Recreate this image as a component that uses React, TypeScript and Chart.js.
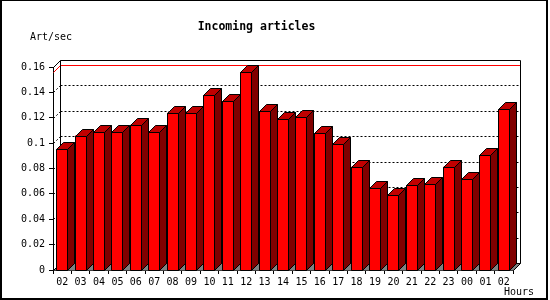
import { useEffect, useRef } from 'react';
import { Chart, registerables } from 'chart.js';

Chart.register(...registerables);

const hours = ['02', '03', '04', '05', '06', '07', '08', '09', '10', '11', '12', '13', '14', '15', '16', '17', '18', '19', '20', '21', '22', '23', '00', '01', '02'];
const articlesPerSec = [0.0956, 0.106, 0.1085, 0.109, 0.1145, 0.109, 0.124, 0.1235, 0.1377, 0.133, 0.156, 0.125, 0.119, 0.1206, 0.1077, 0.099, 0.0814, 0.0643, 0.0588, 0.0667, 0.0675, 0.0814, 0.0714, 0.0904, 0.1266];
const yMin = 0;
const yMax = 0.16;
const yStep = 0.02;
const chartTitle = 'Incoming articles';
const yTitle = 'Art/sec';
const xTitle = 'Hours';

const DEPTH = 7;
const FONT = '"DejaVu Sans Mono", "Liberation Mono", monospace';
const FRONT = '#ff0000';
const SIDE = '#800000';
const TOP = '#c00000';
const FLOOR = '#808080';

const threeD = {
  id: 'threeD',
  beforeDraw(chart: any) {
    const { ctx, width, height } = chart;
    ctx.save();
    ctx.fillStyle = '#ffffff';
    ctx.fillRect(0, 0, width, height);
    ctx.fillStyle = '#000000';
    ctx.fillRect(0, 0, 548, 1);
    ctx.fillRect(0, 0, 2, height);
    ctx.fillRect(546, 0, 2, height);
    ctx.fillRect(0, height - 2, 548, 2);
    ctx.font = '10px ' + FONT;
    ctx.textBaseline = 'middle';
    ctx.textAlign = 'left';
    ctx.fillText(yTitle, 30, 37);
    ctx.fillText(xTitle, 504, 292);
    ctx.restore();
  },
  beforeDatasetsDraw(chart: any) {
    const { ctx, chartArea, scales } = chart;
    const y = scales.y;
    const d = DEPTH;
    const fl = Math.round(chartArea.left) + 0.5;
    const fr = Math.round(chartArea.right) + 0.5;
    const ft = Math.round(chartArea.top) + 0.5;
    const fb = Math.round(chartArea.bottom) + 0.5;
    const bl = fl + d, br = fr + d, bt = ft - d, bb = fb - d;
    ctx.save();
    ctx.lineWidth = 1;
    // floor
    ctx.fillStyle = FLOOR;
    ctx.beginPath();
    ctx.moveTo(fl, fb);
    ctx.lineTo(bl, bb);
    ctx.lineTo(br, bb);
    ctx.lineTo(fr, fb);
    ctx.closePath();
    ctx.fill();
    // dashed grid on back wall and left wall
    ctx.strokeStyle = '#000000';
    ctx.setLineDash([2, 2]);
    y.ticks.forEach((t: any) => {
      if (t.value <= yMin || t.value >= yMax) return;
      const yf = Math.round(y.getPixelForValue(t.value)) + 0.5;
      ctx.beginPath();
      ctx.moveTo(bl, yf - d);
      ctx.lineTo(br, yf - d);
      ctx.moveTo(fl, yf);
      ctx.lineTo(bl, yf - d);
      ctx.stroke();
    });
    ctx.setLineDash([]);
    // max line
    const maxVal = Math.max(...articlesPerSec);
    const ym = Math.round(y.getPixelForValue(maxVal)) + 0.5;
    ctx.strokeStyle = '#ff0000';
    ctx.beginPath();
    ctx.moveTo(fl, ym);
    ctx.lineTo(bl, ym - d);
    ctx.lineTo(br, ym - d);
    ctx.stroke();
    // frame
    ctx.strokeStyle = '#000000';
    ctx.beginPath();
    ctx.moveTo(fl, ft);
    ctx.lineTo(bl, bt);
    ctx.lineTo(br, bt);
    ctx.lineTo(br, bb);
    ctx.lineTo(fr, fb);
    ctx.moveTo(bl, bt);
    ctx.lineTo(bl, bb);
    ctx.lineTo(br, bb);
    ctx.moveTo(fl, fb);
    ctx.lineTo(bl, bb);
    ctx.stroke();
    ctx.restore();
  },
  afterDatasetsDraw(chart: any) {
    const { ctx } = chart;
    const d = DEPTH;
    const meta = chart.getDatasetMeta(0);
    ctx.save();
    ctx.lineWidth = 1;
    ctx.strokeStyle = '#000000';
    meta.data.forEach((el: any) => {
      const p = el.getProps(['x', 'y', 'base', 'width'], true);
      const L = Math.floor(p.x - p.width / 2) + 0.5;
      const R = Math.floor(p.x + p.width / 2) + 0.5;
      const T = Math.round(p.y) + 0.5;
      const B = Math.round(p.base) + 0.5;
      // front
      ctx.fillStyle = FRONT;
      ctx.beginPath();
      ctx.rect(L, T, R - L, B - T);
      ctx.fill();
      ctx.stroke();
      // side
      ctx.fillStyle = SIDE;
      ctx.beginPath();
      ctx.moveTo(R, T);
      ctx.lineTo(R + d, T - d);
      ctx.lineTo(R + d, B - d);
      ctx.lineTo(R, B);
      ctx.closePath();
      ctx.fill();
      ctx.stroke();
      // top
      ctx.fillStyle = TOP;
      ctx.beginPath();
      ctx.moveTo(L, T);
      ctx.lineTo(L + d, T - d);
      ctx.lineTo(R + d, T - d);
      ctx.lineTo(R, T);
      ctx.closePath();
      ctx.fill();
      ctx.stroke();
    });
    ctx.restore();
  },
};

export default function App() {
  const ref = useRef<HTMLCanvasElement | null>(null);
  useEffect(() => {
    if (!ref.current) return;
    const chart = new Chart(ref.current, {
      type: 'bar',
      data: {
        labels: hours,
        datasets: [
          {
            data: articlesPerSec,
            backgroundColor: FRONT,
            borderWidth: 0,
            barPercentage: 0.6,
            categoryPercentage: 1,
          },
        ],
      },
      options: {
        responsive: false,
        animation: false,
        layout: { padding: { left: 0, right: 37, top: 0, bottom: 0 } },
        plugins: {
          legend: { display: false },
          tooltip: { enabled: false },
          title: {
            display: true,
            text: chartTitle,
            color: '#000000',
            font: { family: FONT, size: 11.5, weight: 'bold', lineHeight: 1.2 },
            padding: { top: 20.6, bottom: 32.6 },
          },
        },
        scales: {
          x: {
            grid: { drawOnChartArea: false, drawTicks: true, tickLength: 4, color: '#000000', offset: true },
            border: { display: true, color: '#000000' },
            ticks: { color: '#000000', font: { family: FONT, size: 10 }, padding: 2, maxRotation: 0, autoSkip: false },
            afterFit: (s: any) => { s.height = 30; },
          },
          y: {
            min: yMin,
            max: yMax,
            grid: { drawOnChartArea: false, drawTicks: true, tickLength: 4, color: '#000000' },
            border: { display: true, color: '#000000' },
            ticks: {
              stepSize: yStep,
              color: '#000000',
              font: { family: FONT, size: 10 },
              padding: 4,
              callback: (v: any) => String(parseFloat(Number(v).toFixed(2))),
            },
            afterFit: (s: any) => { s.width = 53; },
          },
        },
      },
      plugins: [threeD],
    });
    return () => chart.destroy();
  }, []);
  return (
    <div style={{ position: 'absolute', left: 0, top: 0, width: 550, height: 300 }}>
      <canvas ref={ref} width={550} height={300} style={{ display: 'block' }} />
    </div>
  );
}
